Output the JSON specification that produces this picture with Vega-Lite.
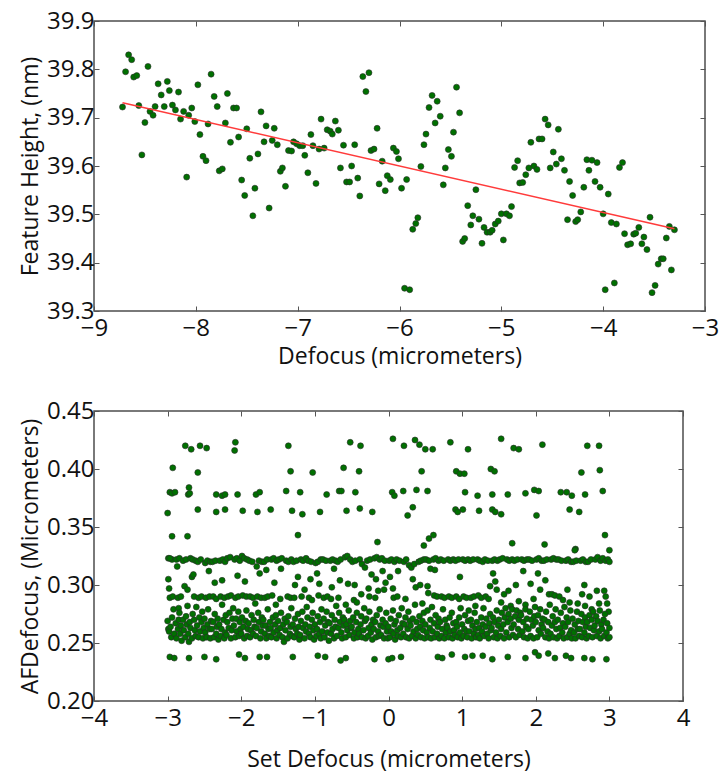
{
"$schema":"https://vega.github.io/schema/vega-lite/v6.json",
"background":"white",
"padding":{"left":18,"top":8,"right":8,"bottom":2},
"spacing":29,
"config":{"font":"Open Sans","view":{"stroke":"#4d4d4d","strokeWidth":1.5},
"axis":{"labelFont":"Open Sans","labelFontSize":24,"labelColor":"#111111","titleFont":"Open Sans","titleFontSize":23,"titleFontWeight":"normal","titleColor":"#111111","domain":false,"grid":false,"tickColor":"#555555","tickSize":-5,"labelPadding":5,"labelFlush":false,"labelOverlap":false},
"axisX":{"labelPadding":10}},
"datasets":{
"fit":[{"x":-8.72,"y":39.731},{"x":-3.3,"y":39.47}],
"height":[
{"x":-8.72,"y":39.722},{"x":-8.69,"y":39.795},{"x":-8.66,"y":39.83},{"x":-8.63,"y":39.82},{"x":-8.61,"y":39.784},{"x":-8.58,"y":39.787},{"x":-8.56,"y":39.725},{"x":-8.53,"y":39.623},{"x":-8.5,"y":39.69},{"x":-8.47,"y":39.806},{"x":-8.45,"y":39.713},{"x":-8.42,"y":39.705},{"x":-8.4,"y":39.723},{"x":-8.37,"y":39.77},{"x":-8.34,"y":39.747},{"x":-8.31,"y":39.723},{"x":-8.28,"y":39.775},{"x":-8.26,"y":39.756},{"x":-8.23,"y":39.726},{"x":-8.2,"y":39.716},{"x":-8.17,"y":39.753},{"x":-8.15,"y":39.697},{"x":-8.12,"y":39.713},{"x":-8.09,"y":39.577},{"x":-8.07,"y":39.705},{"x":-8.04,"y":39.72},{"x":-8.01,"y":39.692},{"x":-7.98,"y":39.768},{"x":-7.96,"y":39.665},{"x":-7.93,"y":39.62},{"x":-7.9,"y":39.611},{"x":-7.88,"y":39.687},{"x":-7.85,"y":39.79},{"x":-7.82,"y":39.744},{"x":-7.79,"y":39.723},{"x":-7.77,"y":39.59},{"x":-7.74,"y":39.594},{"x":-7.71,"y":39.689},{"x":-7.69,"y":39.75},{"x":-7.66,"y":39.649},{"x":-7.63,"y":39.72},{"x":-7.6,"y":39.72},{"x":-7.58,"y":39.66},{"x":-7.55,"y":39.571},{"x":-7.52,"y":39.539},{"x":-7.5,"y":39.677},{"x":-7.47,"y":39.616},{"x":-7.44,"y":39.497},{"x":-7.42,"y":39.554},{"x":-7.39,"y":39.625},{"x":-7.36,"y":39.712},{"x":-7.33,"y":39.65},{"x":-7.31,"y":39.683},{"x":-7.28,"y":39.513},{"x":-7.25,"y":39.653},{"x":-7.23,"y":39.678},{"x":-7.2,"y":39.644},{"x":-7.17,"y":39.589},{"x":-7.15,"y":39.596},{"x":-7.12,"y":39.558},{"x":-7.09,"y":39.632},{"x":-7.06,"y":39.631},{"x":-7.04,"y":39.65},{"x":-7.01,"y":39.646},{"x":-6.98,"y":39.642},{"x":-6.95,"y":39.642},{"x":-6.93,"y":39.622},{"x":-6.9,"y":39.586},{"x":-6.87,"y":39.665},{"x":-6.85,"y":39.642},{"x":-6.82,"y":39.564},{"x":-6.79,"y":39.635},{"x":-6.77,"y":39.697},{"x":-6.74,"y":39.637},{"x":-6.71,"y":39.675},{"x":-6.68,"y":39.672},{"x":-6.66,"y":39.666},{"x":-6.63,"y":39.693},{"x":-6.6,"y":39.674},{"x":-6.58,"y":39.596},{"x":-6.55,"y":39.643},{"x":-6.52,"y":39.567},{"x":-6.49,"y":39.567},{"x":-6.47,"y":39.6},{"x":-6.44,"y":39.644},{"x":-6.41,"y":39.575},{"x":-6.39,"y":39.538},{"x":-6.36,"y":39.785},{"x":-6.33,"y":39.754},{"x":-6.3,"y":39.793},{"x":-6.28,"y":39.632},{"x":-6.25,"y":39.635},{"x":-6.22,"y":39.678},{"x":-6.2,"y":39.563},{"x":-6.17,"y":39.61},{"x":-6.14,"y":39.549},{"x":-6.12,"y":39.58},{"x":-6.09,"y":39.572},{"x":-6.06,"y":39.637},{"x":-6.03,"y":39.63},{"x":-6.01,"y":39.615},{"x":-5.98,"y":39.554},{"x":-5.95,"y":39.347},{"x":-5.93,"y":39.572},{"x":-5.9,"y":39.344},{"x":-5.87,"y":39.469},{"x":-5.84,"y":39.481},{"x":-5.82,"y":39.493},{"x":-5.79,"y":39.599},{"x":-5.76,"y":39.644},{"x":-5.74,"y":39.666},{"x":-5.71,"y":39.721},{"x":-5.68,"y":39.746},{"x":-5.65,"y":39.689},{"x":-5.63,"y":39.734},{"x":-5.6,"y":39.703},{"x":-5.57,"y":39.561},{"x":-5.55,"y":39.596},{"x":-5.52,"y":39.634},{"x":-5.49,"y":39.62},{"x":-5.47,"y":39.67},{"x":-5.44,"y":39.763},{"x":-5.41,"y":39.71},{"x":-5.38,"y":39.444},{"x":-5.36,"y":39.45},{"x":-5.33,"y":39.518},{"x":-5.3,"y":39.478},{"x":-5.28,"y":39.497},{"x":-5.25,"y":39.551},{"x":-5.22,"y":39.49},{"x":-5.19,"y":39.44},{"x":-5.17,"y":39.473},{"x":-5.14,"y":39.463},{"x":-5.11,"y":39.463},{"x":-5.09,"y":39.467},{"x":-5.06,"y":39.48},{"x":-5.03,"y":39.486},{"x":-5.0,"y":39.501},{"x":-4.98,"y":39.447},{"x":-4.95,"y":39.501},{"x":-4.92,"y":39.497},{"x":-4.9,"y":39.516},{"x":-4.87,"y":39.597},{"x":-4.84,"y":39.611},{"x":-4.82,"y":39.565},{"x":-4.79,"y":39.566},{"x":-4.76,"y":39.582},{"x":-4.73,"y":39.596},{"x":-4.71,"y":39.649},{"x":-4.68,"y":39.6},{"x":-4.65,"y":39.593},{"x":-4.63,"y":39.656},{"x":-4.6,"y":39.656},{"x":-4.57,"y":39.697},{"x":-4.54,"y":39.685},{"x":-4.52,"y":39.596},{"x":-4.49,"y":39.629},{"x":-4.46,"y":39.604},{"x":-4.44,"y":39.676},{"x":-4.41,"y":39.615},{"x":-4.38,"y":39.591},{"x":-4.35,"y":39.489},{"x":-4.33,"y":39.568},{"x":-4.3,"y":39.539},{"x":-4.27,"y":39.485},{"x":-4.25,"y":39.489},{"x":-4.22,"y":39.505},{"x":-4.19,"y":39.556},{"x":-4.16,"y":39.613},{"x":-4.14,"y":39.591},{"x":-4.11,"y":39.612},{"x":-4.08,"y":39.568},{"x":-4.06,"y":39.607},{"x":-4.03,"y":39.556},{"x":-4.0,"y":39.501},{"x":-3.98,"y":39.344},{"x":-3.95,"y":39.542},{"x":-3.92,"y":39.483},{"x":-3.89,"y":39.358},{"x":-3.87,"y":39.48},{"x":-3.84,"y":39.597},{"x":-3.81,"y":39.607},{"x":-3.79,"y":39.46},{"x":-3.76,"y":39.437},{"x":-3.73,"y":39.439},{"x":-3.7,"y":39.459},{"x":-3.68,"y":39.461},{"x":-3.65,"y":39.473},{"x":-3.62,"y":39.439},{"x":-3.6,"y":39.453},{"x":-3.57,"y":39.427},{"x":-3.54,"y":39.494},{"x":-3.52,"y":39.338},{"x":-3.49,"y":39.353},{"x":-3.46,"y":39.397},{"x":-3.43,"y":39.408},{"x":-3.41,"y":39.408},{"x":-3.38,"y":39.451},{"x":-3.35,"y":39.475},{"x":-3.33,"y":39.385},{"x":-3.3,"y":39.468}
],
"af":[
{"x":-2.76,"y":0.42},{"x":-2.68,"y":0.417},{"x":-2.56,"y":0.42},{"x":-2.47,"y":0.418},{"x":-2.09,"y":0.416},{"x":-2.08,"y":0.423},{"x":-1.36,"y":0.42},{"x":-0.52,"y":0.423},{"x":-0.38,"y":0.42},{"x":0.06,"y":0.426},{"x":0.21,"y":0.42},{"x":0.36,"y":0.425},{"x":0.42,"y":0.421},{"x":0.5,"y":0.417},{"x":0.6,"y":0.417},{"x":0.84,"y":0.423},{"x":1.08,"y":0.417},{"x":1.53,"y":0.426},{"x":1.7,"y":0.418},{"x":1.77,"y":0.417},{"x":2.09,"y":0.421},{"x":2.7,"y":0.42},{"x":2.86,"y":0.42},
{"x":-2.93,"y":0.401},{"x":-2.59,"y":0.397},{"x":-1.33,"y":0.398},{"x":-1.03,"y":0.397},{"x":-0.61,"y":0.401},{"x":-0.4,"y":0.398},{"x":0.45,"y":0.398},{"x":0.92,"y":0.398},{"x":0.97,"y":0.396},{"x":1.03,"y":0.396},{"x":1.39,"y":0.4},{"x":1.44,"y":0.398},{"x":2.62,"y":0.397},{"x":2.87,"y":0.399},
{"x":-2.97,"y":0.38},{"x":-2.94,"y":0.379},{"x":-2.9,"y":0.38},{"x":-2.71,"y":0.384},{"x":-2.72,"y":0.378},{"x":-2.7,"y":0.379},{"x":-2.34,"y":0.378},{"x":-2.26,"y":0.377},{"x":-2.22,"y":0.378},{"x":-2.05,"y":0.378},{"x":-1.8,"y":0.378},{"x":-1.75,"y":0.38},{"x":-1.39,"y":0.381},{"x":-1.2,"y":0.38},{"x":-0.84,"y":0.378},{"x":-0.67,"y":0.381},{"x":-0.64,"y":0.381},{"x":-0.45,"y":0.38},{"x":0.05,"y":0.38},{"x":0.08,"y":0.377},{"x":0.2,"y":0.381},{"x":0.38,"y":0.382},{"x":0.53,"y":0.381},{"x":1.04,"y":0.38},{"x":1.21,"y":0.377},{"x":1.41,"y":0.378},{"x":1.62,"y":0.378},{"x":1.86,"y":0.379},{"x":1.98,"y":0.382},{"x":2.04,"y":0.381},{"x":2.34,"y":0.38},{"x":2.42,"y":0.38},{"x":2.49,"y":0.377},{"x":2.67,"y":0.378},{"x":2.91,"y":0.381},
{"x":-3.0,"y":0.362},{"x":-2.59,"y":0.365},{"x":-2.34,"y":0.363},{"x":-2.22,"y":0.365},{"x":-1.98,"y":0.364},{"x":-1.78,"y":0.363},{"x":-1.6,"y":0.365},{"x":-1.31,"y":0.364},{"x":-1.17,"y":0.361},{"x":-0.93,"y":0.363},{"x":-0.57,"y":0.364},{"x":-0.39,"y":0.366},{"x":-0.22,"y":0.363},{"x":0.26,"y":0.36},{"x":0.33,"y":0.367},{"x":0.91,"y":0.365},{"x":0.94,"y":0.363},{"x":1.01,"y":0.365},{"x":1.23,"y":0.364},{"x":1.41,"y":0.365},{"x":1.45,"y":0.363},{"x":1.53,"y":0.361},{"x":2.01,"y":0.36},{"x":2.46,"y":0.365},{"x":2.59,"y":0.363},
{"x":-2.94,"y":0.342},{"x":-2.73,"y":0.342},{"x":-1.23,"y":0.343},{"x":-0.15,"y":0.337},{"x":0.48,"y":0.334},{"x":0.55,"y":0.34},{"x":0.61,"y":0.343},{"x":1.68,"y":0.336},{"x":2.12,"y":0.335},{"x":2.54,"y":0.331},{"x":2.94,"y":0.343},{"x":3.0,"y":0.33},
{"x":-2.97,"y":0.238},{"x":-2.91,"y":0.237},{"x":-2.71,"y":0.237},{"x":-2.5,"y":0.238},{"x":-2.34,"y":0.236},{"x":-2.03,"y":0.24},{"x":-1.95,"y":0.237},{"x":-1.75,"y":0.238},{"x":-1.65,"y":0.238},{"x":-1.3,"y":0.238},{"x":-0.96,"y":0.239},{"x":-0.86,"y":0.238},{"x":-0.65,"y":0.235},{"x":-0.58,"y":0.237},{"x":-0.19,"y":0.236},{"x":0.0,"y":0.236},{"x":0.05,"y":0.237},{"x":0.17,"y":0.238},{"x":0.67,"y":0.238},{"x":0.73,"y":0.237},{"x":0.86,"y":0.24},{"x":1.04,"y":0.238},{"x":1.14,"y":0.239},{"x":1.28,"y":0.239},{"x":1.41,"y":0.236},{"x":1.62,"y":0.238},{"x":1.86,"y":0.237},{"x":1.99,"y":0.242},{"x":2.04,"y":0.239},{"x":2.17,"y":0.241},{"x":2.26,"y":0.237},{"x":2.41,"y":0.239},{"x":2.48,"y":0.237},{"x":2.66,"y":0.237},{"x":2.77,"y":0.236},{"x":2.96,"y":0.236},
{"x":-2.99,"y":0.323},{"x":-2.94,"y":0.322},{"x":-2.97,"y":0.323},{"x":-2.99,"y":0.305},{"x":-2.98,"y":0.297},{"x":-2.97,"y":0.289},{"x":-2.93,"y":0.29},{"x":-3.0,"y":0.269},{"x":-2.99,"y":0.262},{"x":-2.98,"y":0.26},{"x":-2.96,"y":0.264},{"x":-2.95,"y":0.255},{"x":-2.94,"y":0.272},{"x":-2.92,"y":0.279},{"x":-2.91,"y":0.258},
{"x":-2.88,"y":0.322},{"x":-2.84,"y":0.323},{"x":-2.87,"y":0.316},{"x":-2.85,"y":0.28},{"x":-2.86,"y":0.289},{"x":-2.82,"y":0.29},{"x":-2.89,"y":0.267},{"x":-2.88,"y":0.254},{"x":-2.86,"y":0.262},{"x":-2.85,"y":0.27},{"x":-2.84,"y":0.276},{"x":-2.83,"y":0.258},{"x":-2.82,"y":0.265},{"x":-2.81,"y":0.252},
{"x":-2.79,"y":0.321},{"x":-2.75,"y":0.322},{"x":-2.77,"y":0.299},{"x":-2.73,"y":0.296},{"x":-2.79,"y":0.27},{"x":-2.78,"y":0.261},{"x":-2.76,"y":0.255},{"x":-2.75,"y":0.273},{"x":-2.74,"y":0.266},{"x":-2.73,"y":0.282},{"x":-2.72,"y":0.258},{"x":-2.71,"y":0.251},
{"x":-2.69,"y":0.323},{"x":-2.66,"y":0.322},{"x":-2.62,"y":0.321},{"x":-2.67,"y":0.307},{"x":-2.65,"y":0.309},{"x":-2.64,"y":0.29},{"x":-2.7,"y":0.268},{"x":-2.69,"y":0.263},{"x":-2.67,"y":0.254},{"x":-2.66,"y":0.275},{"x":-2.64,"y":0.27},{"x":-2.63,"y":0.261},{"x":-2.62,"y":0.256},{"x":-2.61,"y":0.281},
{"x":-2.59,"y":0.32},{"x":-2.55,"y":0.322},{"x":-2.58,"y":0.289},{"x":-2.54,"y":0.29},{"x":-2.6,"y":0.265},{"x":-2.58,"y":0.255},{"x":-2.57,"y":0.272},{"x":-2.56,"y":0.26},{"x":-2.54,"y":0.268},{"x":-2.53,"y":0.277},{"x":-2.52,"y":0.254},{"x":-2.51,"y":0.263},
{"x":-2.49,"y":0.319},{"x":-2.46,"y":0.321},{"x":-2.42,"y":0.32},{"x":-2.44,"y":0.312},{"x":-2.48,"y":0.289},{"x":-2.43,"y":0.29},{"x":-2.5,"y":0.271},{"x":-2.49,"y":0.259},{"x":-2.47,"y":0.255},{"x":-2.46,"y":0.266},{"x":-2.45,"y":0.279},{"x":-2.43,"y":0.262},{"x":-2.42,"y":0.254},{"x":-2.41,"y":0.269},
{"x":-2.39,"y":0.32},{"x":-2.35,"y":0.321},{"x":-2.38,"y":0.29},{"x":-2.34,"y":0.288},{"x":-2.36,"y":0.302},{"x":-2.4,"y":0.262},{"x":-2.38,"y":0.268},{"x":-2.37,"y":0.255},{"x":-2.36,"y":0.275},{"x":-2.34,"y":0.258},{"x":-2.33,"y":0.264},{"x":-2.32,"y":0.271},{"x":-2.31,"y":0.253},
{"x":-2.29,"y":0.321},{"x":-2.25,"y":0.322},{"x":-2.22,"y":0.32},{"x":-2.28,"y":0.29},{"x":-2.23,"y":0.289},{"x":-2.26,"y":0.304},{"x":-2.3,"y":0.266},{"x":-2.28,"y":0.256},{"x":-2.27,"y":0.262},{"x":-2.26,"y":0.283},{"x":-2.24,"y":0.27},{"x":-2.23,"y":0.254},{"x":-2.22,"y":0.259},{"x":-2.21,"y":0.274},
{"x":-2.19,"y":0.323},{"x":-2.15,"y":0.324},{"x":-2.18,"y":0.29},{"x":-2.14,"y":0.291},{"x":-2.2,"y":0.257},{"x":-2.19,"y":0.268},{"x":-2.17,"y":0.263},{"x":-2.16,"y":0.276},{"x":-2.14,"y":0.254},{"x":-2.13,"y":0.261},{"x":-2.12,"y":0.271},{"x":-2.11,"y":0.28},
{"x":-2.09,"y":0.322},{"x":-2.06,"y":0.323},{"x":-2.02,"y":0.321},{"x":-2.08,"y":0.289},{"x":-2.04,"y":0.29},{"x":-2.05,"y":0.308},{"x":-2.1,"y":0.265},{"x":-2.08,"y":0.255},{"x":-2.07,"y":0.271},{"x":-2.06,"y":0.26},{"x":-2.04,"y":0.277},{"x":-2.03,"y":0.256},{"x":-2.02,"y":0.268},{"x":-2.01,"y":0.262},
{"x":-1.99,"y":0.325},{"x":-1.96,"y":0.323},{"x":-1.92,"y":0.322},{"x":-1.98,"y":0.291},{"x":-1.93,"y":0.29},{"x":-1.95,"y":0.303},{"x":-2.0,"y":0.258},{"x":-1.99,"y":0.272},{"x":-1.97,"y":0.264},{"x":-1.96,"y":0.254},{"x":-1.94,"y":0.269},{"x":-1.93,"y":0.278},{"x":-1.92,"y":0.256},{"x":-1.91,"y":0.262},
{"x":-1.89,"y":0.321},{"x":-1.85,"y":0.32},{"x":-1.88,"y":0.29},{"x":-1.84,"y":0.289},{"x":-1.9,"y":0.267},{"x":-1.88,"y":0.255},{"x":-1.87,"y":0.261},{"x":-1.86,"y":0.274},{"x":-1.84,"y":0.258},{"x":-1.83,"y":0.27},{"x":-1.82,"y":0.264},{"x":-1.81,"y":0.284},
{"x":-1.79,"y":0.316},{"x":-1.76,"y":0.321},{"x":-1.72,"y":0.32},{"x":-1.78,"y":0.29},{"x":-1.73,"y":0.289},{"x":-1.75,"y":0.31},{"x":-1.8,"y":0.256},{"x":-1.79,"y":0.263},{"x":-1.77,"y":0.276},{"x":-1.76,"y":0.268},{"x":-1.74,"y":0.254},{"x":-1.73,"y":0.26},{"x":-1.72,"y":0.272},{"x":-1.71,"y":0.265},
{"x":-1.69,"y":0.32},{"x":-1.65,"y":0.322},{"x":-1.68,"y":0.289},{"x":-1.64,"y":0.29},{"x":-1.66,"y":0.313},{"x":-1.7,"y":0.27},{"x":-1.68,"y":0.258},{"x":-1.67,"y":0.265},{"x":-1.66,"y":0.254},{"x":-1.64,"y":0.279},{"x":-1.63,"y":0.262},{"x":-1.62,"y":0.256},{"x":-1.61,"y":0.268},
{"x":-1.59,"y":0.322},{"x":-1.56,"y":0.323},{"x":-1.52,"y":0.321},{"x":-1.58,"y":0.291},{"x":-1.55,"y":0.302},{"x":-1.53,"y":0.283},{"x":-1.6,"y":0.263},{"x":-1.59,"y":0.255},{"x":-1.57,"y":0.272},{"x":-1.56,"y":0.259},{"x":-1.54,"y":0.266},{"x":-1.53,"y":0.274},{"x":-1.52,"y":0.254},{"x":-1.51,"y":0.261},
{"x":-1.49,"y":0.322},{"x":-1.45,"y":0.323},{"x":-1.47,"y":0.288},{"x":-1.46,"y":0.314},{"x":-1.5,"y":0.269},{"x":-1.48,"y":0.257},{"x":-1.47,"y":0.263},{"x":-1.46,"y":0.276},{"x":-1.44,"y":0.255},{"x":-1.43,"y":0.266},{"x":-1.42,"y":0.251},{"x":-1.41,"y":0.271},
{"x":-1.39,"y":0.321},{"x":-1.36,"y":0.32},{"x":-1.32,"y":0.322},{"x":-1.37,"y":0.29},{"x":-1.33,"y":0.289},{"x":-1.4,"y":0.261},{"x":-1.38,"y":0.268},{"x":-1.37,"y":0.254},{"x":-1.36,"y":0.273},{"x":-1.34,"y":0.258},{"x":-1.33,"y":0.264},{"x":-1.32,"y":0.28},{"x":-1.31,"y":0.256},
{"x":-1.29,"y":0.32},{"x":-1.25,"y":0.321},{"x":-1.27,"y":0.3},{"x":-1.23,"y":0.307},{"x":-1.28,"y":0.289},{"x":-1.3,"y":0.266},{"x":-1.28,"y":0.255},{"x":-1.27,"y":0.271},{"x":-1.26,"y":0.262},{"x":-1.24,"y":0.258},{"x":-1.23,"y":0.275},{"x":-1.22,"y":0.264},{"x":-1.21,"y":0.253},
{"x":-1.19,"y":0.322},{"x":-1.16,"y":0.321},{"x":-1.12,"y":0.323},{"x":-1.18,"y":0.29},{"x":-1.14,"y":0.296},{"x":-1.2,"y":0.257},{"x":-1.19,"y":0.269},{"x":-1.17,"y":0.277},{"x":-1.16,"y":0.263},{"x":-1.14,"y":0.254},{"x":-1.13,"y":0.266},{"x":-1.12,"y":0.26},{"x":-1.11,"y":0.281},
{"x":-1.09,"y":0.321},{"x":-1.05,"y":0.32},{"x":-1.08,"y":0.289},{"x":-1.04,"y":0.287},{"x":-1.06,"y":0.305},{"x":-1.1,"y":0.272},{"x":-1.08,"y":0.258},{"x":-1.07,"y":0.264},{"x":-1.06,"y":0.255},{"x":-1.04,"y":0.27},{"x":-1.03,"y":0.276},{"x":-1.02,"y":0.261},{"x":-1.01,"y":0.253},
{"x":-0.99,"y":0.319},{"x":-0.96,"y":0.32},{"x":-0.92,"y":0.322},{"x":-0.97,"y":0.31},{"x":-0.94,"y":0.301},{"x":-0.95,"y":0.291},{"x":-1.0,"y":0.266},{"x":-0.98,"y":0.256},{"x":-0.97,"y":0.262},{"x":-0.96,"y":0.273},{"x":-0.94,"y":0.258},{"x":-0.93,"y":0.268},{"x":-0.92,"y":0.254},{"x":-0.91,"y":0.279},
{"x":-0.89,"y":0.322},{"x":-0.85,"y":0.321},{"x":-0.88,"y":0.289},{"x":-0.83,"y":0.29},{"x":-0.9,"y":0.26},{"x":-0.88,"y":0.271},{"x":-0.87,"y":0.255},{"x":-0.86,"y":0.265},{"x":-0.84,"y":0.277},{"x":-0.83,"y":0.259},{"x":-0.82,"y":0.268},{"x":-0.81,"y":0.252},
{"x":-0.79,"y":0.321},{"x":-0.76,"y":0.322},{"x":-0.72,"y":0.321},{"x":-0.74,"y":0.314},{"x":-0.77,"y":0.298},{"x":-0.78,"y":0.288},{"x":-0.8,"y":0.267},{"x":-0.78,"y":0.258},{"x":-0.77,"y":0.274},{"x":-0.76,"y":0.262},{"x":-0.74,"y":0.254},{"x":-0.73,"y":0.27},{"x":-0.72,"y":0.264},{"x":-0.71,"y":0.282},
{"x":-0.69,"y":0.32},{"x":-0.65,"y":0.322},{"x":-0.68,"y":0.289},{"x":-0.66,"y":0.304},{"x":-0.7,"y":0.256},{"x":-0.68,"y":0.263},{"x":-0.67,"y":0.276},{"x":-0.66,"y":0.268},{"x":-0.64,"y":0.259},{"x":-0.63,"y":0.254},{"x":-0.62,"y":0.272},{"x":-0.61,"y":0.265},
{"x":-0.59,"y":0.324},{"x":-0.56,"y":0.325},{"x":-0.52,"y":0.322},{"x":-0.55,"y":0.301},{"x":-0.58,"y":0.283},{"x":-0.6,"y":0.27},{"x":-0.58,"y":0.255},{"x":-0.57,"y":0.266},{"x":-0.56,"y":0.261},{"x":-0.54,"y":0.278},{"x":-0.53,"y":0.257},{"x":-0.52,"y":0.269},{"x":-0.51,"y":0.263},
{"x":-0.49,"y":0.32},{"x":-0.45,"y":0.321},{"x":-0.47,"y":0.287},{"x":-0.46,"y":0.3},{"x":-0.43,"y":0.285},{"x":-0.5,"y":0.264},{"x":-0.48,"y":0.272},{"x":-0.47,"y":0.254},{"x":-0.46,"y":0.259},{"x":-0.44,"y":0.268},{"x":-0.43,"y":0.276},{"x":-0.42,"y":0.255},{"x":-0.41,"y":0.262},
{"x":-0.39,"y":0.322},{"x":-0.36,"y":0.318},{"x":-0.32,"y":0.315},{"x":-0.37,"y":0.292},{"x":-0.4,"y":0.258},{"x":-0.38,"y":0.266},{"x":-0.37,"y":0.273},{"x":-0.36,"y":0.255},{"x":-0.34,"y":0.261},{"x":-0.33,"y":0.28},{"x":-0.32,"y":0.269},{"x":-0.31,"y":0.254},
{"x":-0.29,"y":0.321},{"x":-0.25,"y":0.322},{"x":-0.27,"y":0.297},{"x":-0.23,"y":0.309},{"x":-0.26,"y":0.29},{"x":-0.3,"y":0.271},{"x":-0.28,"y":0.256},{"x":-0.27,"y":0.263},{"x":-0.26,"y":0.277},{"x":-0.24,"y":0.259},{"x":-0.23,"y":0.266},{"x":-0.22,"y":0.253},{"x":-0.21,"y":0.27},
{"x":-0.19,"y":0.323},{"x":-0.16,"y":0.324},{"x":-0.12,"y":0.322},{"x":-0.17,"y":0.305},{"x":-0.14,"y":0.295},{"x":-0.18,"y":0.289},{"x":-0.2,"y":0.262},{"x":-0.18,"y":0.268},{"x":-0.17,"y":0.255},{"x":-0.16,"y":0.274},{"x":-0.14,"y":0.26},{"x":-0.13,"y":0.256},{"x":-0.12,"y":0.279},{"x":-0.11,"y":0.265},
{"x":-0.09,"y":0.323},{"x":-0.05,"y":0.321},{"x":-0.08,"y":0.312},{"x":-0.04,"y":0.302},{"x":-0.06,"y":0.296},{"x":-0.1,"y":0.257},{"x":-0.08,"y":0.27},{"x":-0.07,"y":0.264},{"x":-0.06,"y":0.254},{"x":-0.04,"y":0.267},{"x":-0.03,"y":0.276},{"x":-0.02,"y":0.26},{"x":-0.01,"y":0.254},
{"x":0.01,"y":0.321},{"x":0.04,"y":0.322},{"x":0.08,"y":0.32},{"x":0.02,"y":0.307},{"x":0.06,"y":0.297},{"x":0.07,"y":0.289},{"x":0.0,"y":0.264},{"x":0.02,"y":0.255},{"x":0.03,"y":0.271},{"x":0.04,"y":0.26},{"x":0.06,"y":0.278},{"x":0.07,"y":0.258},{"x":0.08,"y":0.266},{"x":0.09,"y":0.253},
{"x":0.11,"y":0.322},{"x":0.15,"y":0.321},{"x":0.13,"y":0.312},{"x":0.12,"y":0.29},{"x":0.1,"y":0.269},{"x":0.12,"y":0.261},{"x":0.13,"y":0.256},{"x":0.14,"y":0.274},{"x":0.16,"y":0.263},{"x":0.17,"y":0.255},{"x":0.18,"y":0.28},{"x":0.19,"y":0.267},
{"x":0.21,"y":0.32},{"x":0.24,"y":0.322},{"x":0.28,"y":0.317},{"x":0.23,"y":0.288},{"x":0.2,"y":0.258},{"x":0.22,"y":0.266},{"x":0.23,"y":0.272},{"x":0.24,"y":0.255},{"x":0.26,"y":0.262},{"x":0.27,"y":0.277},{"x":0.28,"y":0.254},{"x":0.29,"y":0.269},
{"x":0.31,"y":0.315},{"x":0.35,"y":0.318},{"x":0.33,"y":0.305},{"x":0.37,"y":0.298},{"x":0.3,"y":0.265},{"x":0.32,"y":0.256},{"x":0.33,"y":0.271},{"x":0.34,"y":0.26},{"x":0.36,"y":0.283},{"x":0.37,"y":0.254},{"x":0.38,"y":0.268},{"x":0.39,"y":0.262},
{"x":0.41,"y":0.32},{"x":0.44,"y":0.321},{"x":0.48,"y":0.322},{"x":0.43,"y":0.3},{"x":0.46,"y":0.284},{"x":0.4,"y":0.257},{"x":0.42,"y":0.273},{"x":0.43,"y":0.264},{"x":0.44,"y":0.255},{"x":0.46,"y":0.269},{"x":0.47,"y":0.261},{"x":0.48,"y":0.276},{"x":0.49,"y":0.254},
{"x":0.51,"y":0.322},{"x":0.55,"y":0.321},{"x":0.54,"y":0.293},{"x":0.57,"y":0.314},{"x":0.53,"y":0.299},{"x":0.5,"y":0.266},{"x":0.52,"y":0.259},{"x":0.53,"y":0.278},{"x":0.54,"y":0.255},{"x":0.56,"y":0.263},{"x":0.57,"y":0.27},{"x":0.58,"y":0.254},{"x":0.59,"y":0.281},
{"x":0.61,"y":0.322},{"x":0.64,"y":0.323},{"x":0.68,"y":0.321},{"x":0.62,"y":0.291},{"x":0.66,"y":0.29},{"x":0.63,"y":0.313},{"x":0.6,"y":0.26},{"x":0.62,"y":0.267},{"x":0.63,"y":0.255},{"x":0.64,"y":0.274},{"x":0.66,"y":0.258},{"x":0.67,"y":0.264},{"x":0.68,"y":0.271},{"x":0.69,"y":0.254},
{"x":0.71,"y":0.322},{"x":0.75,"y":0.321},{"x":0.72,"y":0.29},{"x":0.76,"y":0.289},{"x":0.7,"y":0.268},{"x":0.72,"y":0.256},{"x":0.73,"y":0.262},{"x":0.74,"y":0.279},{"x":0.76,"y":0.254},{"x":0.77,"y":0.27},{"x":0.78,"y":0.259},{"x":0.79,"y":0.265},
{"x":0.81,"y":0.322},{"x":0.84,"y":0.321},{"x":0.88,"y":0.322},{"x":0.82,"y":0.29},{"x":0.86,"y":0.289},{"x":0.8,"y":0.263},{"x":0.82,"y":0.255},{"x":0.83,"y":0.272},{"x":0.84,"y":0.26},{"x":0.86,"y":0.276},{"x":0.87,"y":0.254},{"x":0.88,"y":0.267},{"x":0.89,"y":0.261},
{"x":0.91,"y":0.321},{"x":0.95,"y":0.322},{"x":0.92,"y":0.29},{"x":0.96,"y":0.288},{"x":0.97,"y":0.307},{"x":0.9,"y":0.257},{"x":0.92,"y":0.268},{"x":0.93,"y":0.264},{"x":0.94,"y":0.255},{"x":0.96,"y":0.272},{"x":0.97,"y":0.259},{"x":0.98,"y":0.28},{"x":0.99,"y":0.254},
{"x":1.01,"y":0.322},{"x":1.04,"y":0.321},{"x":1.08,"y":0.322},{"x":1.02,"y":0.29},{"x":1.06,"y":0.289},{"x":1.0,"y":0.266},{"x":1.02,"y":0.256},{"x":1.03,"y":0.262},{"x":1.04,"y":0.274},{"x":1.06,"y":0.26},{"x":1.07,"y":0.255},{"x":1.08,"y":0.269},{"x":1.09,"y":0.278},
{"x":1.11,"y":0.321},{"x":1.15,"y":0.322},{"x":1.12,"y":0.289},{"x":1.16,"y":0.29},{"x":1.18,"y":0.282},{"x":1.1,"y":0.26},{"x":1.12,"y":0.27},{"x":1.13,"y":0.254},{"x":1.14,"y":0.265},{"x":1.16,"y":0.258},{"x":1.17,"y":0.276},{"x":1.18,"y":0.262},{"x":1.19,"y":0.255},
{"x":1.21,"y":0.322},{"x":1.24,"y":0.321},{"x":1.28,"y":0.32},{"x":1.22,"y":0.291},{"x":1.26,"y":0.289},{"x":1.2,"y":0.268},{"x":1.22,"y":0.257},{"x":1.23,"y":0.263},{"x":1.24,"y":0.254},{"x":1.26,"y":0.272},{"x":1.27,"y":0.26},{"x":1.28,"y":0.266},{"x":1.29,"y":0.28},
{"x":1.31,"y":0.322},{"x":1.35,"y":0.321},{"x":1.32,"y":0.29},{"x":1.36,"y":0.288},{"x":1.38,"y":0.299},{"x":1.3,"y":0.256},{"x":1.32,"y":0.264},{"x":1.33,"y":0.271},{"x":1.34,"y":0.258},{"x":1.36,"y":0.254},{"x":1.37,"y":0.267},{"x":1.38,"y":0.275},{"x":1.39,"y":0.261},
{"x":1.41,"y":0.321},{"x":1.44,"y":0.322},{"x":1.48,"y":0.321},{"x":1.42,"y":0.31},{"x":1.45,"y":0.303},{"x":1.47,"y":0.296},{"x":1.4,"y":0.263},{"x":1.42,"y":0.272},{"x":1.43,"y":0.255},{"x":1.44,"y":0.268},{"x":1.46,"y":0.259},{"x":1.47,"y":0.278},{"x":1.48,"y":0.254},{"x":1.49,"y":0.265},
{"x":1.51,"y":0.322},{"x":1.55,"y":0.323},{"x":1.53,"y":0.285},{"x":1.57,"y":0.292},{"x":1.5,"y":0.27},{"x":1.52,"y":0.256},{"x":1.53,"y":0.262},{"x":1.54,"y":0.276},{"x":1.56,"y":0.266},{"x":1.57,"y":0.254},{"x":1.58,"y":0.272},{"x":1.59,"y":0.28},
{"x":1.61,"y":0.322},{"x":1.64,"y":0.321},{"x":1.68,"y":0.322},{"x":1.63,"y":0.295},{"x":1.66,"y":0.282},{"x":1.6,"y":0.259},{"x":1.62,"y":0.268},{"x":1.63,"y":0.275},{"x":1.64,"y":0.255},{"x":1.66,"y":0.271},{"x":1.67,"y":0.263},{"x":1.68,"y":0.279},{"x":1.69,"y":0.257},
{"x":1.71,"y":0.321},{"x":1.75,"y":0.322},{"x":1.73,"y":0.3},{"x":1.77,"y":0.286},{"x":1.7,"y":0.266},{"x":1.72,"y":0.273},{"x":1.73,"y":0.255},{"x":1.74,"y":0.278},{"x":1.76,"y":0.262},{"x":1.77,"y":0.27},{"x":1.78,"y":0.257},{"x":1.79,"y":0.276},
{"x":1.81,"y":0.322},{"x":1.84,"y":0.321},{"x":1.88,"y":0.322},{"x":1.83,"y":0.312},{"x":1.86,"y":0.283},{"x":1.8,"y":0.274},{"x":1.82,"y":0.26},{"x":1.83,"y":0.268},{"x":1.84,"y":0.255},{"x":1.86,"y":0.279},{"x":1.87,"y":0.264},{"x":1.88,"y":0.271},{"x":1.89,"y":0.254},
{"x":1.91,"y":0.322},{"x":1.95,"y":0.321},{"x":1.93,"y":0.301},{"x":1.97,"y":0.288},{"x":1.9,"y":0.262},{"x":1.92,"y":0.277},{"x":1.93,"y":0.256},{"x":1.94,"y":0.27},{"x":1.96,"y":0.265},{"x":1.97,"y":0.254},{"x":1.98,"y":0.273},{"x":1.99,"y":0.281},
{"x":2.01,"y":0.322},{"x":2.04,"y":0.323},{"x":2.08,"y":0.321},{"x":2.03,"y":0.31},{"x":2.06,"y":0.296},{"x":2.0,"y":0.268},{"x":2.02,"y":0.255},{"x":2.03,"y":0.274},{"x":2.04,"y":0.261},{"x":2.06,"y":0.279},{"x":2.07,"y":0.258},{"x":2.08,"y":0.266},{"x":2.09,"y":0.271},
{"x":2.11,"y":0.321},{"x":2.15,"y":0.322},{"x":2.13,"y":0.304},{"x":2.18,"y":0.292},{"x":2.1,"y":0.263},{"x":2.12,"y":0.27},{"x":2.13,"y":0.255},{"x":2.14,"y":0.277},{"x":2.16,"y":0.26},{"x":2.17,"y":0.268},{"x":2.18,"y":0.254},{"x":2.19,"y":0.283},
{"x":2.21,"y":0.322},{"x":2.24,"y":0.323},{"x":2.28,"y":0.322},{"x":2.22,"y":0.292},{"x":2.26,"y":0.291},{"x":2.2,"y":0.258},{"x":2.22,"y":0.265},{"x":2.23,"y":0.273},{"x":2.24,"y":0.255},{"x":2.26,"y":0.268},{"x":2.27,"y":0.279},{"x":2.28,"y":0.262},{"x":2.29,"y":0.254},
{"x":2.31,"y":0.322},{"x":2.35,"y":0.321},{"x":2.32,"y":0.29},{"x":2.37,"y":0.287},{"x":2.3,"y":0.27},{"x":2.32,"y":0.256},{"x":2.33,"y":0.263},{"x":2.34,"y":0.276},{"x":2.36,"y":0.259},{"x":2.37,"y":0.267},{"x":2.38,"y":0.254},{"x":2.39,"y":0.281},
{"x":2.41,"y":0.321},{"x":2.44,"y":0.322},{"x":2.48,"y":0.32},{"x":2.43,"y":0.296},{"x":2.46,"y":0.285},{"x":2.4,"y":0.264},{"x":2.42,"y":0.272},{"x":2.43,"y":0.255},{"x":2.44,"y":0.268},{"x":2.46,"y":0.258},{"x":2.47,"y":0.278},{"x":2.48,"y":0.261},{"x":2.49,"y":0.254},
{"x":2.51,"y":0.32},{"x":2.55,"y":0.321},{"x":2.53,"y":0.33},{"x":2.57,"y":0.284},{"x":2.5,"y":0.271},{"x":2.52,"y":0.259},{"x":2.53,"y":0.266},{"x":2.54,"y":0.254},{"x":2.56,"y":0.277},{"x":2.57,"y":0.262},{"x":2.58,"y":0.269},{"x":2.59,"y":0.256},
{"x":2.61,"y":0.321},{"x":2.64,"y":0.322},{"x":2.68,"y":0.32},{"x":2.63,"y":0.292},{"x":2.66,"y":0.3},{"x":2.67,"y":0.282},{"x":2.6,"y":0.262},{"x":2.62,"y":0.275},{"x":2.63,"y":0.255},{"x":2.64,"y":0.268},{"x":2.66,"y":0.259},{"x":2.67,"y":0.272},{"x":2.68,"y":0.264},{"x":2.69,"y":0.254},
{"x":2.71,"y":0.32},{"x":2.75,"y":0.322},{"x":2.73,"y":0.29},{"x":2.76,"y":0.279},{"x":2.7,"y":0.268},{"x":2.72,"y":0.256},{"x":2.73,"y":0.274},{"x":2.74,"y":0.263},{"x":2.76,"y":0.27},{"x":2.77,"y":0.255},{"x":2.78,"y":0.277},{"x":2.79,"y":0.261},
{"x":2.81,"y":0.322},{"x":2.84,"y":0.324},{"x":2.88,"y":0.321},{"x":2.83,"y":0.295},{"x":2.86,"y":0.284},{"x":2.8,"y":0.265},{"x":2.82,"y":0.273},{"x":2.83,"y":0.256},{"x":2.84,"y":0.269},{"x":2.86,"y":0.26},{"x":2.87,"y":0.278},{"x":2.88,"y":0.254},{"x":2.89,"y":0.266},
{"x":2.91,"y":0.323},{"x":2.95,"y":0.321},{"x":2.98,"y":0.322},{"x":3.0,"y":0.32},{"x":2.93,"y":0.295},{"x":2.95,"y":0.29},{"x":2.97,"y":0.284},{"x":2.99,"y":0.277},{"x":2.9,"y":0.262},{"x":2.92,"y":0.27},{"x":2.93,"y":0.256},{"x":2.94,"y":0.275},{"x":2.96,"y":0.259},{"x":2.97,"y":0.267},{"x":2.98,"y":0.254},{"x":3.0,"y":0.263},{"x":3.0,"y":0.255}
]},
"vconcat":[
{"width":611,"height":290,
"layer":[
{"data":{"name":"height"},"mark":{"type":"circle","fill":"#007000","stroke":"#2a2a2a","strokeWidth":0.6,"size":36,"opacity":1},
"encoding":{"x":{"field":"x","type":"quantitative","scale":{"domain":[-9,-3],"nice":false,"zero":false},"axis":{"values":[-9,-8,-7,-6,-5,-4,-3],"title":"Defocus (micrometers)","titlePadding":5}},
"y":{"field":"y","type":"quantitative","scale":{"domain":[39.3,39.9],"nice":false,"zero":false},"axis":{"values":[39.3,39.4,39.5,39.6,39.7,39.8,39.9],"format":".1f","title":"Feature Height, (nm)","titlePadding":4}}}},
{"data":{"name":"fit"},"mark":{"type":"line","color":"#ff3b3b","strokeWidth":1.5},
"encoding":{"x":{"field":"x","type":"quantitative","axis":{"orient":"top","values":[-9,-8,-7,-6,-5,-4,-3],"labels":false,"title":null}},
"y":{"field":"y","type":"quantitative","axis":{"orient":"right","values":[39.3,39.4,39.5,39.6,39.7,39.8,39.9],"labels":false,"title":null}}}}
],
"resolve":{"axis":{"x":"independent","y":"independent"}}},
{"width":589,"height":290,
"data":{"name":"af"},
"layer":[
{"mark":{"type":"circle","fill":"#007000","stroke":"#2a2a2a","strokeWidth":0.6,"size":36,"opacity":1},
"encoding":{"x":{"field":"x","type":"quantitative","scale":{"domain":[-4,4],"nice":false,"zero":false},"axis":{"values":[-4,-3,-2,-1,0,1,2,3,4],"title":"Set Defocus (micrometers)","titlePadding":18}},
"y":{"field":"y","type":"quantitative","scale":{"domain":[0.2,0.45],"nice":false,"zero":false},"axis":{"values":[0.2,0.25,0.3,0.35,0.4,0.45],"format":".2f","title":"AFDefocus, (Micrometers)","titlePadding":4}}}},
{"mark":{"type":"circle","opacity":0},
"encoding":{"x":{"field":"x","type":"quantitative","axis":{"orient":"top","values":[-4,-3,-2,-1,0,1,2,3,4],"labels":false,"title":null}},
"y":{"field":"y","type":"quantitative","axis":{"orient":"right","values":[0.2,0.25,0.3,0.35,0.4,0.45],"labels":false,"title":null}}}}
],
"resolve":{"axis":{"x":"independent","y":"independent"}}}
]}
